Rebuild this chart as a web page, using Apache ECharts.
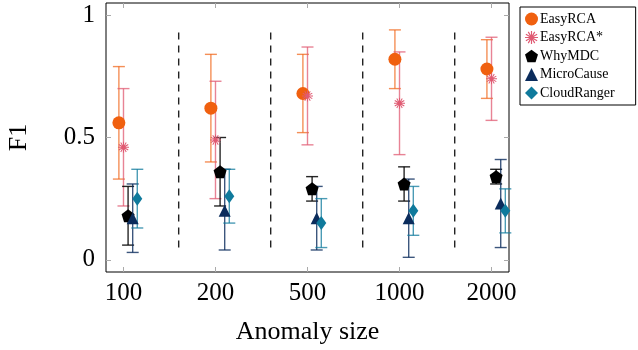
<!DOCTYPE html>
<html>
<head>
<meta charset="utf-8">
<script src="https://cdn.jsdelivr.net/npm/echarts@6/dist/echarts.min.js"></script>
<style>
  html, body { margin: 0; padding: 0; background: #fff; }
  #chart { width: 638px; height: 350px; }
</style>
</head>
<body>
<div id="chart"></div>
<script>
// anomaly sizes on the x axis
var sizes = ['100', '200', '500', '1000', '2000'];

// F1 mean / lower / upper per method
var easyMean = [0.56, 0.62, 0.68, 0.82, 0.78];
var easyLow  = [0.33, 0.40, 0.52, 0.70, 0.66];
var easyHigh = [0.79, 0.84, 0.84, 0.94, 0.90];

var easyStarMean = [0.46, 0.49, 0.67, 0.64, 0.74];
var easyStarLow  = [0.22, 0.25, 0.47, 0.43, 0.57];
var easyStarHigh = [0.70, 0.73, 0.87, 0.85, 0.91];

var whyMean = [0.18, 0.36, 0.29, 0.31, 0.34];
var whyLow  = [0.06, 0.22, 0.24, 0.24, 0.31];
var whyHigh = [0.30, 0.50, 0.34, 0.38, 0.37];

var microMean = [0.17, 0.20, 0.17, 0.17, 0.23];
var microLow  = [0.03, 0.04, 0.04, 0.01, 0.05];
var microHigh = [0.31, 0.37, 0.30, 0.33, 0.41];

var cloudMean = [0.25, 0.26, 0.15, 0.20, 0.20];
var cloudLow  = [0.13, 0.15, 0.05, 0.10, 0.11];
var cloudHigh = [0.37, 0.37, 0.25, 0.30, 0.29];

// dashed separators between groups
var separators = [0.6, 1.6, 2.6, 3.6];

var font = 'Liberation Serif';

// asterisk made of thin bars
function asteriskPath() {
    var d = '';
    var angles = [0, 30, 60, 90, 120, 150];
    angles.forEach(function (a) {
        var r = a * Math.PI / 180;
        var c = Math.cos(r), s = Math.sin(r);
        var hw = 0.9, hl = 10;
        var pts = [[-hw, -hl], [hw, -hl], [hw, hl], [-hw, hl]].map(function (p) {
            return [(p[0] * c - p[1] * s).toFixed(2), (p[0] * s + p[1] * c).toFixed(2)];
        });
        d += 'M' + pts[0].join(',') + 'L' + pts[1].join(',') + 'L' + pts[2].join(',') + 'L' + pts[3].join(',') + 'Z';
    });
    return 'path://' + d;
}
var pentagon = 'path://M0,-10L9.51,-3.09L5.88,8.09L-5.88,8.09L-9.51,-3.09Z';

var methods = [
    { name: 'EasyRCA', mean: easyMean, low: easyLow, high: easyHigh, color: '#f0600f', bar: 'rgba(240,96,15,0.7)', symbol: 'circle', size: 13 },
    { name: 'EasyRCA*', mean: easyStarMean, low: easyStarLow, high: easyStarHigh, color: '#e05a72', bar: 'rgba(224,90,114,0.75)', symbol: asteriskPath(), size: 11 },
    { name: 'WhyMDC', mean: whyMean, low: whyLow, high: whyHigh, color: '#000000', bar: 'rgba(0,0,0,0.85)', symbol: pentagon, size: 13 },
    { name: 'MicroCause', mean: microMean, low: microLow, high: microHigh, color: '#0b2c5c', bar: 'rgba(11,44,92,0.8)', symbol: 'triangle', size: 12 },
    { name: 'CloudRanger', mean: cloudMean, low: cloudLow, high: cloudHigh, color: '#0f7a9c', bar: 'rgba(15,122,156,0.75)', symbol: 'diamond', size: [10, 14] }
];
var offsets = [-0.05, 0, 0.05, 0.10, 0.15];

var series = [];

series.push({
    type: 'custom',
    name: 'sep',
    data: separators.map(function (x) { return [x]; }),
    silent: true,
    z: 1,
    renderItem: function (params, api) {
        var x = api.value(0);
        var a = api.coord([x, 0.05]);
        var b = api.coord([x, 0.95]);
        return {
            type: 'line',
            shape: { x1: a[0], y1: a[1], x2: b[0], y2: b[1] },
            style: { stroke: '#222', lineWidth: 1.4, lineDash: [7, 6] }
        };
    }
});

methods.forEach(function (m, k) {
    series.push({
        type: 'custom',
        name: m.name + '-err',
        data: m.mean.map(function (v, i) { return [i + offsets[k], m.low[i], m.high[i]]; }),
        z: 2,
        silent: true,
        renderItem: function (params, api) {
            var x = api.value(0);
            var top = api.coord([x, api.value(2)]);
            var bot = api.coord([x, api.value(1)]);
            var w = 6;
            var st = { stroke: m.bar, lineWidth: 1.4 };
            return {
                type: 'group',
                children: [
                    { type: 'line', shape: { x1: top[0], y1: top[1], x2: bot[0], y2: bot[1] }, style: st },
                    { type: 'line', shape: { x1: top[0] - w, y1: top[1], x2: top[0] + w, y2: top[1] }, style: st },
                    { type: 'line', shape: { x1: bot[0] - w, y1: bot[1], x2: bot[0] + w, y2: bot[1] }, style: st }
                ]
            };
        }
    });
});

methods.forEach(function (m, k) {
    series.push({
        type: 'scatter',
        name: m.name,
        symbol: m.symbol,
        symbolSize: m.size,
        itemStyle: { color: m.color, opacity: 1 },
        z: 3,
        data: m.mean.map(function (v, i) { return [i + offsets[k], v]; })
    });
});

var tickStyle = { show: true, inside: true, length: 5, lineStyle: { color: '#aaa', width: 1 } };
var noLine = { show: false, onZero: false };

var option = {
    animation: false,
    grid: {
        left: 106, right: 129, top: 3, bottom: 78,
        outerBoundsMode: 'none',
        show: true, borderColor: '#000', borderWidth: 1
    },
    legend: {
        data: methods.map(function (m) { return m.name; }),
        orient: 'vertical',
        left: 520,
        top: 7,
        padding: [5, 21, 5, 5],
        itemWidth: 13,
        itemHeight: 13,
        itemGap: 4.5,
        borderColor: '#000',
        borderWidth: 1,
        borderRadius: 0,
        textStyle: { fontFamily: font, fontSize: 14, color: '#000', padding: [0, 0, 0, -3] }
    },
    xAxis: [{
        type: 'value',
        min: -0.19,
        max: 4.19,
        name: 'Anomaly size',
        nameLocation: 'middle',
        nameGap: 47,
        nameTextStyle: { fontFamily: font, fontSize: 26, color: '#000' },
        axisLine: noLine,
        splitLine: { show: false },
        axisTick: Object.assign({ customValues: [0, 1, 2, 3, 4] }, tickStyle),
        axisLabel: {
            customValues: [0, 1, 2, 3, 4],
            formatter: function (v) { return sizes[Math.round(v)]; },
            fontFamily: font, fontSize: 25, color: '#000', margin: 9
        }
    }, {
        type: 'value',
        position: 'top',
        min: -0.19,
        max: 4.19,
        axisLine: noLine,
        splitLine: { show: false },
        axisTick: Object.assign({ customValues: [0, 1, 2, 3, 4] }, tickStyle),
        axisLabel: { show: false }
    }],
    yAxis: [{
        type: 'value',
        position: 'left',
        min: -0.05,
        max: 1.05,
        name: 'F1',
        nameLocation: 'middle',
        nameGap: 74,
        nameTextStyle: { fontFamily: font, fontSize: 26, color: '#000' },
        axisLine: noLine,
        splitLine: { show: false },
        axisTick: Object.assign({ customValues: [0, 0.5, 1] }, tickStyle),
        axisLabel: {
            customValues: [0, 0.5, 1],
            formatter: function (v) { return String(v); },
            fontFamily: font, fontSize: 25, color: '#000', margin: 11
        }
    }, {
        type: 'value',
        position: 'right',
        min: -0.05,
        max: 1.05,
        axisLine: noLine,
        splitLine: { show: false },
        axisTick: Object.assign({ customValues: [0, 0.5, 1] }, tickStyle),
        axisLabel: { show: false }
    }],
    series: series
};

var chart = echarts.init(document.getElementById('chart'));
chart.setOption(option);
</script>
</body>
</html>
